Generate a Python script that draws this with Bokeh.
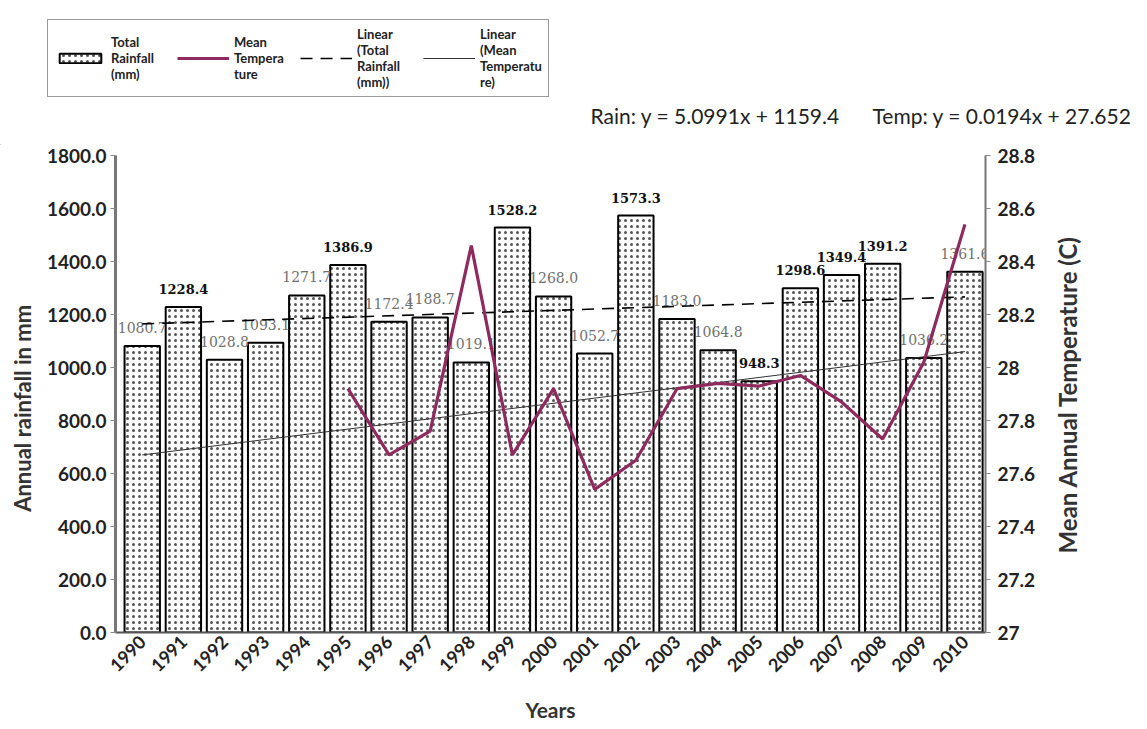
import math
from bokeh.plotting import figure
from bokeh.layouts import row
from bokeh.models import (Range1d, LinearAxis, FixedTicker, ColumnDataSource, Label,
                          Legend, LegendItem, CustomJSTickFormatter)
from bokeh.core.properties import value
from bokeh.embed import file_html
from bokeh.resources import INLINE

# ---------------- data ----------------
years = list(range(1990, 2011))
rainfall = [1080.7, 1228.4, 1028.8, 1093.1, 1271.7, 1386.9, 1172.4, 1188.7, 1019.1, 1528.2,
            1268.0, 1052.7, 1573.3, 1183.0, 1064.8, 948.3, 1298.6, 1349.4, 1391.2, 1036.2, 1361.6]
temp_years = list(range(1995, 2011))
temperature = [27.92, 27.67, 27.76, 28.46, 27.67, 27.92, 27.54, 27.65, 27.92, 27.94,
               27.93, 27.97, 27.87, 27.73, 28.02, 28.54]
trend_years = [1990, 2010]
rain_trend = [1164.5, 1266.5]
temp_trend = [27.67, 28.06]
rain_ticks = [0, 200, 400, 600, 800, 1000, 1200, 1400, 1600, 1800]
temp_ticks = [27.0, 27.2, 27.4, 27.6, 27.8, 28.0, 28.2, 28.4, 28.6, 28.8]
rain_eq = "Rain: y = 5.0991x + 1159.4"
temp_eq = "Temp: y = 0.0194x + 27.652"
legend_labels = ["Total\nRainfall\n(mm)", "Mean\nTempera\nture",
                 "Linear\n(Total\nRainfall\n(mm))", "Linear\n(Mean\nTemperatu\nre)"]
left_title = "Annual rainfall in mm"
right_title = "Mean Annual Temperature (C)"
x_title = "Years"
bold_label_years = [1991, 1995, 1999, 2002, 2005, 2006, 2007, 2008]

FONT = "Lato"
LINE_COL = "#8E2A5E"
TOTAL_W = 1145
HEAD_H = 145
LEFT_W = 40
MAIN_W = 998
SIDE_W = TOTAL_W - LEFT_W - MAIN_W
MAIN_H = 579
B_TOP, B_BOT = 10, 90

BAR_STYLE = dict(fill_color="white", line_color="black", line_width=2, hatch_pattern="dot",
                 hatch_color="#555555", hatch_scale=6, hatch_weight=1.8)
TEMP_STYLE = dict(line_color=LINE_COL, line_width=3.2)
DASH_STYLE = dict(line_color="black", line_width=1.6, line_dash="12 8")
THIN_STYLE = dict(line_color="#333333", line_width=1)


def blank(w, h, xr, yr, top=0, bottom=0):
    f = figure(width=w, height=h, output_backend="svg", toolbar_location=None,
               x_range=Range1d(*xr), y_range=Range1d(*yr),
               min_border_left=0, min_border_right=0, min_border_top=top,
               min_border_bottom=bottom)
    f.xaxis.visible = False
    f.yaxis.visible = False
    f.grid.visible = False
    f.outline_line_color = None
    return f


# ---------------- header (legend + equations) ----------------
head = blank(TOTAL_W, HEAD_H, (0, TOTAL_W), (0, HEAD_H))
off = ColumnDataSource(dict(x=[-500], y=[-500]))
hb = head.vbar(x="x", top="y", width=1, source=off, **BAR_STYLE)
ht = head.line(x="x", y="y", source=off, **TEMP_STYLE)
hd = head.line(x="x", y="y", source=off, **DASH_STYLE)
hn = head.line(x="x", y="y", source=off, **THIN_STYLE)

legend = Legend(items=[LegendItem(label=l, renderers=[r])
                       for l, r in zip(legend_labels, [hb, ht, hd, hn])],
                orientation="horizontal", location=(47, 48))
legend.label_text_font = FONT
legend.label_text_font_style = "bold"
legend.label_text_font_size = "13px"
legend.label_text_line_height = 1.5
legend.label_text_color = "#222222"
legend.glyph_width = 52
legend.glyph_height = 12
legend.label_standoff = 5
legend.label_width = 62
legend.spacing = 4
legend.padding = 6
legend.margin = 0
legend.border_line_color = "#333333"
legend.border_line_width = 1
legend.background_fill_color = "white"
legend.background_fill_alpha = 1
head.add_layout(legend, "center")

head.add_layout(Label(x=590, y=30, text=rain_eq, text_align="left", text_baseline="middle",
                      text_font=FONT, text_font_size="21px", text_color="#222222"))
head.add_layout(Label(x=872, y=30, text=temp_eq, text_align="left", text_baseline="middle",
                      text_font=FONT, text_font_size="21px", text_color="#222222"))

# ---------------- main chart ----------------
p = figure(width=MAIN_W, height=MAIN_H, output_backend="svg", toolbar_location=None,
           x_range=Range1d(1989.35, 2010.5), y_range=Range1d(0, 1800),
           min_border_left=75, min_border_right=50, min_border_top=B_TOP,
           min_border_bottom=B_BOT)
p.outline_line_color = None
p.xgrid.visible = False
p.ygrid.visible = False
p.extra_y_ranges = {"temp": Range1d(27, 28.8)}

bold = [y in bold_label_years for y in years]
src = ColumnDataSource(dict(x=years, y=rainfall))
p.vbar(x="x", top="y", width=0.86, source=src, **BAR_STYLE)

bsrc = ColumnDataSource(dict(x=[x for x, b in zip(years, bold) if b],
                             y=[v for v, b in zip(rainfall, bold) if b],
                             lab=["%.1f" % v for v, b in zip(rainfall, bold) if b]))
nsrc = ColumnDataSource(dict(x=[x for x, b in zip(years, bold) if not b],
                             y=[v for v, b in zip(rainfall, bold) if not b],
                             lab=["%.1f" % v for v, b in zip(rainfall, bold) if not b]))
p.text(x="x", y="y", text="lab", source=bsrc, text_align="center", text_baseline="bottom",
       y_offset=-13, text_font=value("DejaVu Serif"), text_font_style="bold",
       text_font_size="13px", text_color="#111111")
p.text(x="x", y="y", text="lab", source=nsrc, text_align="center", text_baseline="bottom",
       y_offset=-13, text_font=value("DejaVu Serif"), text_font_size="14px",
       text_color="#707070")

p.line(trend_years, rain_trend, **DASH_STYLE)
p.line(trend_years, temp_trend, y_range_name="temp", **THIN_STYLE)
p.line(temp_years, temperature, y_range_name="temp", **TEMP_STYLE)

xa = p.xaxis[0]
xa.ticker = FixedTicker(ticks=years)
xa.major_label_orientation = math.pi / 4
xa.major_label_text_font = FONT
xa.major_label_text_font_style = "bold"
xa.major_label_text_font_size = "18px"
xa.major_label_text_color = "#222222"
xa.major_label_standoff = 6
xa.axis_label = x_title
xa.axis_label_text_font = FONT
xa.axis_label_text_font_style = "bold"
xa.axis_label_text_font_size = "21px"
xa.axis_label_text_color = "#333333"
xa.axis_label_standoff = 16
xa.axis_line_color = "#555555"
xa.axis_line_width = 2
xa.major_tick_out = 0
xa.major_tick_in = 0
xa.major_tick_line_color = None
xa.minor_tick_line_color = None

ya = p.yaxis[0]
ya.ticker = FixedTicker(ticks=rain_ticks)
ya.formatter = CustomJSTickFormatter(code="return tick.toFixed(1);")
ya.major_label_text_font = FONT
ya.major_label_text_font_style = "bold"
ya.major_label_text_font_size = "19px"
ya.major_label_text_color = "#222222"
ya.axis_line_color = "#777777"
ya.axis_line_width = 3
ya.major_tick_line_color = "#888888"
ya.major_tick_out = 5
ya.major_tick_in = 0
ya.minor_tick_line_color = None
ya.major_label_standoff = 4

ra = LinearAxis(y_range_name="temp", ticker=FixedTicker(ticks=temp_ticks),
                formatter=CustomJSTickFormatter(code="return String(Math.round(tick*10)/10);"))
ra.major_label_text_font = FONT
ra.major_label_text_font_style = "bold"
ra.major_label_text_font_size = "19px"
ra.major_label_text_color = "#222222"
ra.axis_line_color = "#777777"
ra.axis_line_width = 2
ra.major_tick_line_color = "#888888"
ra.major_tick_out = 5
ra.major_tick_in = 0
ra.minor_tick_line_color = None
ra.major_label_standoff = 7
p.add_layout(ra, "right")

# ---------------- axis title strips ----------------
left = blank(LEFT_W, MAIN_H, (0, LEFT_W), (0, 1800), B_TOP, B_BOT)
left.add_layout(Label(x=22, y=846, text=left_title, angle=math.pi / 2,
                      text_align="center", text_baseline="middle", text_font=FONT,
                      text_font_style="bold", text_font_size="22px", text_color="#333333"))

side = blank(SIDE_W, MAIN_H, (0, SIDE_W), (0, 1800), B_TOP, B_BOT)
side.add_layout(Label(x=29, y=898, text=right_title, angle=math.pi / 2,
                      text_align="center", text_baseline="middle", text_font=FONT,
                      text_font_style="bold", text_font_size="24px", text_color="#333333"))

open("out.html", "w").write(file_html([head, row(left, p, side, spacing=0)], INLINE))
